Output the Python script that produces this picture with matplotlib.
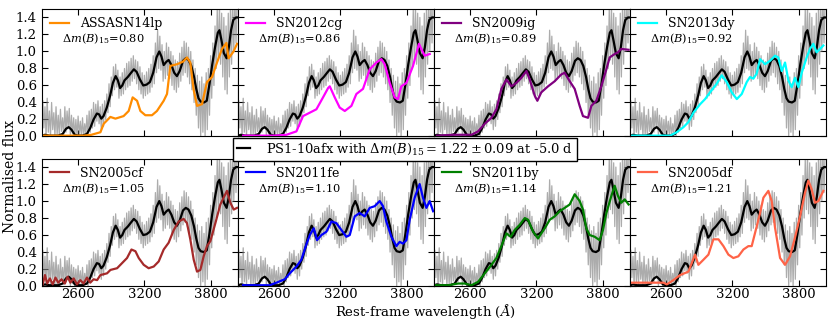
import matplotlib
matplotlib.use("Agg")
import matplotlib.pyplot as plt
from matplotlib.lines import Line2D

plt.rcParams['font.family'] = 'DejaVu Serif'
plt.rcParams['mathtext.fontset'] = 'dejavuserif'
plt.rcParams['font.size'] = 9

# PS1-10afx observed spectrum (grey, noisy), 10 A steps
wave_obs = list(range(2280, 4041, 10))
flux_obs = [0.42, 0.10, 0.35, 0.00, 0.45, 0.05, 0.30, 0.00, 0.40, 0.08,
            0.28, 0.00, 0.35, 0.02, 0.25, 0.00, 0.32, 0.06, 0.22, 0.02,
            0.35, 0.05, 0.30, 0.10, 0.33, 0.00, 0.25, 0.03, 0.22, 0.00,
            0.20, 0.00, 0.24, 0.02, 0.18, 0.00, 0.22, 0.00, 0.15, 0.03,
            0.25, 0.00, 0.30, 0.05, 0.32, 0.10, 0.40, 0.12, 0.38, 0.18,
            0.42, 0.15, 0.35, 0.08, 0.38, 0.12, 0.42, 0.20, 0.50, 0.28,
            0.62, 0.35, 0.70, 0.48, 0.82, 0.55, 0.85, 0.58, 0.78, 0.45,
            0.70, 0.48, 0.75, 0.50, 0.80, 0.55, 0.86, 0.58, 0.88, 0.60,
            0.92, 0.65, 0.95, 0.68, 0.90, 0.62, 0.88, 0.55, 0.82, 0.50,
            0.75, 0.45, 0.72, 0.48, 0.76, 0.50, 0.80, 0.52, 0.85, 0.58,
            0.95, 0.62, 1.10, 0.75, 1.25, 0.80, 1.18, 0.78, 1.08, 0.65,
            1.00, 0.68, 1.10, 0.72, 1.05, 0.68, 1.00, 0.60, 0.95, 0.55,
            0.90, 0.52, 0.88, 0.58, 0.98, 0.65, 1.05, 0.72, 1.12, 0.75,
            1.10, 0.70, 1.05, 0.62, 1.00, 0.55, 0.90, 0.40, 0.80, 0.25,
            0.72, 0.10, 0.65, 0.00, 0.70, 0.05, 0.62, 0.00, 0.75, 0.08,
            0.80, 0.25, 0.95, 0.45, 1.10, 0.60, 1.30, 0.80, 1.50, 0.90,
            1.55, 0.85, 1.45, 0.70, 1.40, 0.55, 1.30, 0.50, 1.45, 0.70,
            1.55, 0.85, 1.60, 1.00, 1.60, 1.10, 1.60]

# PS1-10afx smoothed spectrum (black)
wave_smooth = [2275, 2300, 2340, 2380, 2420, 2460, 2490, 2515, 2540, 2570,
               2600, 2640, 2680, 2710, 2740, 2770, 2790, 2810, 2830, 2860,
               2890, 2915, 2940, 2960, 2980, 3000, 3020, 3050, 3080, 3105,
               3130, 3160, 3190, 3220, 3250, 3280, 3310, 3335, 3355, 3375,
               3400, 3420, 3445, 3470, 3495, 3520, 3550, 3575, 3600, 3625,
               3650, 3670, 3690, 3710, 3740, 3765, 3790, 3815, 3840, 3865,
               3880, 3900, 3920, 3945, 3965, 3985, 4005, 4030, 4050]
flux_smooth = [0.01, 0.02, 0.01, 0.01, 0.01, 0.03, 0.09, 0.11, 0.08, 0.02,
               0.01, 0.01, 0.03, 0.10, 0.20, 0.27, 0.26, 0.21, 0.24, 0.34,
               0.48, 0.63, 0.71, 0.66, 0.57, 0.60, 0.66, 0.70, 0.75, 0.79,
               0.76, 0.67, 0.60, 0.61, 0.64, 0.75, 0.93, 1.00, 0.94, 0.84,
               0.88, 0.90, 0.84, 0.75, 0.71, 0.77, 0.89, 0.92, 0.90, 0.83,
               0.70, 0.56, 0.45, 0.41, 0.40, 0.42, 0.62, 0.85, 1.05, 1.22,
               1.25, 1.12, 0.98, 0.92, 1.05, 1.25, 1.37, 1.40, 1.40]

# comparison supernovae
wave_asassn14lp = [2280, 2400, 2500, 2600, 2650, 2720, 2802, 2832, 2892, 2938,
                   3012, 3058, 3094, 3134, 3164, 3209, 3269, 3314, 3375, 3405,
                   3435, 3496, 3550, 3586, 3616, 3646, 3677, 3722, 3767, 3813,
                   3858, 3903, 3943, 3963, 4008, 4039]
flux_asassn14lp = [0.01, 0.01, 0.01, 0.01, 0.01, 0.02, 0.05, 0.15, 0.23, 0.21,
                   0.24, 0.30, 0.46, 0.42, 0.30, 0.25, 0.25, 0.30, 0.42, 0.50,
                   0.83, 0.85, 0.88, 0.93, 0.87, 0.55, 0.36, 0.38, 0.64, 0.70,
                   0.87, 1.03, 1.10, 0.92, 1.00, 1.09]

wave_sn2012cg = [2320, 2450, 2600, 2711, 2802, 2862, 2923, 2983, 3043, 3089,
                 3104, 3149, 3194, 3240, 3300, 3345, 3405, 3466, 3526, 3571,
                 3601, 3647, 3692, 3722, 3752, 3798, 3858, 3912, 3933, 3963,
                 4009]
flux_sn2012cg = [0.01, 0.01, 0.01, 0.02, 0.06, 0.24, 0.28, 0.32, 0.46, 0.57,
                 0.59, 0.46, 0.34, 0.30, 0.36, 0.50, 0.56, 0.79, 0.87, 0.91,
                 0.85, 0.63, 0.46, 0.44, 0.59, 0.63, 0.83, 1.09, 1.03, 0.95,
                 0.97]

wave_sn2009ig = [2300, 2450, 2612, 2672, 2733, 2793, 2838, 2883, 2929, 2974,
                 3019, 3064, 3110, 3140, 3185, 3209, 3245, 3306, 3366, 3426,
                 3456, 3502, 3547, 3592, 3622, 3668, 3698, 3743, 3788, 3834,
                 3864, 3909, 3939, 3969, 4035]
flux_sn2009ig = [0.01, 0.02, 0.02, 0.06, 0.15, 0.22, 0.32, 0.56, 0.67, 0.59,
                 0.63, 0.69, 0.77, 0.67, 0.48, 0.42, 0.52, 0.59, 0.65, 0.73,
                 0.75, 0.65, 0.56, 0.36, 0.24, 0.22, 0.36, 0.42, 0.59, 0.79,
                 0.93, 0.97, 0.99, 1.03, 1.02]

wave_sn2013dy = [2280, 2450, 2636, 2696, 2757, 2802, 2847, 2908, 2953, 2998,
                 3058, 3104, 3149, 3194, 3240, 3285, 3330, 3360, 3390, 3420,
                 3451, 3496, 3541, 3586, 3616, 3647, 3677, 3707, 3737, 3767,
                 3798, 3828, 3873, 3903, 3933, 3963, 3994, 4024]
flux_sn2013dy = [0.01, 0.01, 0.01, 0.05, 0.11, 0.17, 0.28, 0.38, 0.44, 0.52,
                 0.62, 0.72, 0.64, 0.52, 0.44, 0.50, 0.64, 0.70, 0.68, 0.74,
                 0.91, 0.85, 0.89, 0.95, 0.93, 0.77, 0.87, 0.66, 0.58, 0.69,
                 0.58, 0.75, 0.93, 1.03, 1.09, 0.99, 1.03, 1.07]

wave_sn2005cf = [2280, 2300, 2320, 2345, 2370, 2395, 2420, 2450, 2480, 2505,
                 2530, 2560, 2590, 2620, 2650, 2680, 2710, 2740, 2772, 2802,
                 2862, 2893, 2953, 2998, 3043, 3083, 3119, 3149, 3194, 3239,
                 3285, 3330, 3375, 3420, 3466, 3511, 3556, 3586, 3616, 3647,
                 3677, 3707, 3737, 3767, 3798, 3843, 3888, 3948, 3979, 4009,
                 4039]
flux_sn2005cf = [0.02, 0.13, 0.03, 0.09, 0.02, 0.10, 0.04, 0.08, 0.03, 0.11,
                 0.04, 0.09, 0.02, 0.07, 0.03, 0.10, 0.04, 0.08, 0.07, 0.13,
                 0.15, 0.19, 0.21, 0.27, 0.33, 0.43, 0.41, 0.33, 0.25, 0.21,
                 0.23, 0.29, 0.43, 0.51, 0.66, 0.76, 0.79, 0.74, 0.55, 0.31,
                 0.17, 0.19, 0.35, 0.47, 0.53, 0.74, 0.96, 1.12, 0.98, 0.90,
                 0.92]

wave_sn2011fe = [2319, 2400, 2500, 2560, 2621, 2696, 2742, 2802, 2847, 2892,
                 2923, 2959, 2989, 3028, 3074, 3119, 3164, 3209, 3254, 3285,
                 3330, 3375, 3420, 3466, 3511, 3556, 3586, 3616, 3662, 3707,
                 3737, 3767, 3798, 3828, 3873, 3918, 3948, 3979, 4009, 4040]
flux_sn2011fe = [0.01, 0.01, 0.01, 0.01, 0.04, 0.08, 0.15, 0.23, 0.31, 0.49,
                 0.60, 0.68, 0.54, 0.60, 0.64, 0.76, 0.74, 0.66, 0.58, 0.60,
                 0.82, 0.86, 0.82, 0.92, 0.94, 1.00, 0.94, 0.76, 0.58, 0.47,
                 0.52, 0.50, 0.54, 0.78, 1.04, 1.20, 1.04, 0.92, 1.00, 0.88]

wave_sn2011by = [2280, 2400, 2491, 2552, 2612, 2672, 2733, 2793, 2838, 2883,
                 2929, 2968, 3004, 3049, 3095, 3125, 3170, 3215, 3245, 3276,
                 3321, 3366, 3411, 3457, 3502, 3547, 3592, 3622, 3652, 3683,
                 3728, 3773, 3803, 3834, 3879, 3909, 3939, 3969, 4000, 4035]
flux_sn2011by = [0.01, 0.01, 0.03, 0.03, 0.01, 0.05, 0.15, 0.25, 0.33, 0.47,
                 0.62, 0.58, 0.66, 0.72, 0.80, 0.78, 0.64, 0.56, 0.62, 0.68,
                 0.78, 0.82, 0.88, 0.92, 0.96, 1.08, 1.00, 0.90, 0.68, 0.60,
                 0.58, 0.54, 0.66, 0.86, 1.06, 1.18, 1.06, 0.98, 1.02, 0.96]

wave_sn2005df = [2290, 2334, 2450, 2576, 2606, 2666, 2727, 2802, 2862, 2892,
                 2938, 2983, 3028, 3074, 3119, 3164, 3209, 3254, 3300, 3345,
                 3375, 3420, 3451, 3481, 3526, 3556, 3586, 3632, 3677, 3722,
                 3767, 3813, 3858, 3888, 3918, 3948, 3979, 4024]
flux_sn2005df = [0.04, 0.04, 0.04, 0.04, 0.02, 0.07, 0.13, 0.17, 0.37, 0.25,
                 0.31, 0.37, 0.55, 0.55, 0.47, 0.37, 0.33, 0.35, 0.43, 0.47,
                 0.47, 0.70, 0.86, 1.04, 1.12, 1.00, 0.69, 0.33, 0.25, 0.35,
                 0.57, 0.82, 1.10, 1.24, 1.14, 0.98, 1.00, 1.12]

names = ['ASSASN14lp', 'SN2012cg', 'SN2009ig', 'SN2013dy',
         'SN2005cf', 'SN2011fe', 'SN2011by', 'SN2005df']
dm15 = [0.80, 0.86, 0.89, 0.92, 1.05, 1.10, 1.14, 1.21]
colors = ['darkorange', 'magenta', 'purple', 'cyan',
          'brown', 'blue', 'green', 'tomato']
waves = [wave_asassn14lp, wave_sn2012cg, wave_sn2009ig, wave_sn2013dy,
         wave_sn2005cf, wave_sn2011fe, wave_sn2011by, wave_sn2005df]
fluxes = [flux_asassn14lp, flux_sn2012cg, flux_sn2009ig, flux_sn2013dy,
          flux_sn2005cf, flux_sn2011fe, flux_sn2011by, flux_sn2005df]

fig, axes = plt.subplots(2, 4, figsize=(8.3, 3.2), dpi=100, sharex=True, sharey=True)
fig.subplots_adjust(left=0.0502, right=0.9948, top=0.972, bottom=0.106,
                    wspace=0, hspace=0.173)

for i, ax in enumerate(axes.flat):
    ax.plot(wave_obs, flux_obs, color='gray', alpha=0.65, lw=0.9)
    ax.plot(wave_smooth, flux_smooth, color='black', lw=1.6)
    ax.plot(waves[i], fluxes[i], color=colors[i], lw=1.6, label=names[i])
    ax.legend(loc='upper left', frameon=False, fontsize=9,
              handlelength=1.5, handletextpad=0.9, borderaxespad=0.25)
    ax.text(0.105, 0.765, r'$\Delta m(B)_{15}$=%.2f' % dm15[i],
            transform=ax.transAxes, fontsize=8.2, va='center', ha='left')
    ax.set_xlim(2270, 4045)
    ax.set_ylim(0, 1.5)
    ax.set_xticks([2600, 3200, 3800])
    ax.set_yticks([0.0, 0.2, 0.4, 0.6, 0.8, 1.0, 1.2, 1.4])
    ax.tick_params(direction='in', top=True, right=True, length=4, labelsize=9.5)
    ax.tick_params(axis='x', pad=1.5)

axes[0, 0].set_yticklabels(['0.0', '0.2', '0.4', '0.6', '0.8', '1.0', '1.2', '1.4'])

fig.text(0.012, 0.45, 'Normalised flux', rotation=90, va='center', ha='center', fontsize=10)
fig.text(0.513, 0.027, r'Rest-frame wavelength $(\AA)$', va='center', ha='center', fontsize=9.5)

handle = Line2D([], [], color='black', lw=1.6)
fig.legend([handle], [r'PS1-10afx with $\Delta m(B)_{15}=1.22\pm0.09$ at -5.0 d'],
           loc='center', bbox_to_anchor=(0.488, 0.534), fancybox=False,
           edgecolor='black', framealpha=1, fontsize=9.4,
           handlelength=1.0, handletextpad=1.2, borderpad=0.3)

fig.savefig('out.png', dpi=100)
